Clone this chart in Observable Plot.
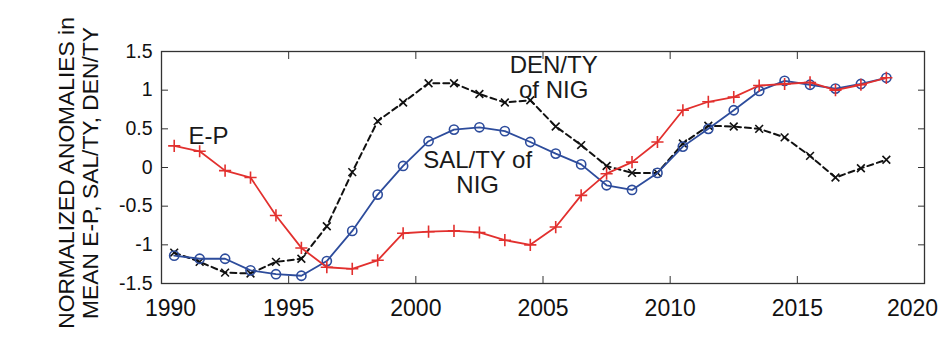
<!DOCTYPE html>
<html>
<head>
<meta charset="utf-8">
<script src="https://cdn.jsdelivr.net/npm/d3@7"></script>
<script src="https://cdn.jsdelivr.net/npm/@observablehq/plot@0.6"></script>
<style>
  html, body { margin: 0; padding: 0; background: #fff; }
  #chart svg { display: block; }
</style>
</head>
<body>
<div id="chart"></div>
<script>
const years = [1990.5, 1991.5, 1992.5, 1993.5, 1994.5, 1995.5, 1996.5, 1997.5, 1998.5, 1999.5,
               2000.5, 2001.5, 2002.5, 2003.5, 2004.5, 2005.5, 2006.5, 2007.5, 2008.5, 2009.5,
               2010.5, 2011.5, 2012.5, 2013.5, 2014.5, 2015.5, 2016.5, 2017.5, 2018.5];
const ep  = [0.28, 0.21, -0.04, -0.13, -0.62, -1.04, -1.29, -1.31, -1.20, -0.85,
             -0.83, -0.82, -0.84, -0.94, -1.00, -0.77, -0.36, -0.08, 0.07, 0.33,
             0.74, 0.85, 0.91, 1.06, 1.08, 1.10, 1.00, 1.07, 1.16];
const sal = [-1.14, -1.18, -1.18, -1.33, -1.38, -1.40, -1.21, -0.82, -0.35, 0.02,
             0.34, 0.49, 0.52, 0.47, 0.33, 0.18, 0.04, -0.23, -0.29, -0.07,
             0.27, 0.50, 0.74, 0.99, 1.12, 1.07, 1.02, 1.08, 1.16];
const den = [-1.10, -1.22, -1.36, -1.37, -1.22, -1.18, -0.76, -0.06, 0.60, 0.84,
             1.09, 1.09, 0.95, 0.84, 0.87, 0.53, 0.29, 0.02, -0.07, -0.07,
             0.31, 0.54, 0.53, 0.50, 0.39, 0.15, -0.13, -0.01, 0.10];
const xTicks = [1990, 1995, 2000, 2005, 2010, 2015, 2020];
const xTickLabels = ["1990", "1995", "2000", "2005", "2010", "2015", "2020"];
const yTicks = [-1.5, -1, -0.5, 0, 0.5, 1, 1.5];
const yTickLabels = ["-1.5", "-1", "-0.5", "0", "0.5", "1", "1.5"];
const annotations = [
  {x: 1991.85, y: 0.41, text: "E-P"},
  {x: 2005.42, y: 1.16, text: "DEN/TY\nof NIG"},
  {x: 2002.43, y: -0.06, text: "SAL/TY of\nNIG"}
];
const yTitle = ["NORMALIZED ANOMALIES in", "MEAN E-P, SAL/TY, DEN/TY"];

const epData  = years.map((t, i) => ({t, v: ep[i]}));
const salData = years.map((t, i) => ({t, v: sal[i]}));
const denData = years.map((t, i) => ({t, v: den[i]}));
const xLab = xTicks.map((t, i) => ({t, s: xTickLabels[i]}));
const yLab = yTicks.map((v, i) => ({v, s: yTickLabels[i]}));

const RED = "#e2302e", BLUE = "#2d4c9c", BLACK = "#111";
const FONT = "'Liberation Sans', Arial, Helvetica, sans-serif";
const noLabel = () => "";

const plot = Plot.plot({
  width: 945,
  height: 337,
  marginLeft: 161,
  marginRight: 21,
  marginTop: 51,
  marginBottom: 54,
  style: {fontFamily: FONT, background: "#fff", color: "#222"},
  x: {domain: [1990, 2020]},
  y: {domain: [-1.5, 1.5]},
  marks: [
    // inward tick marks on all four sides
    Plot.axisX(xTicks, {anchor: "bottom", tickSize: -7, tickFormat: noLabel, label: null, stroke: "#333"}),
    Plot.axisX(xTicks, {anchor: "top", tickSize: -7, tickFormat: noLabel, label: null, stroke: "#333"}),
    Plot.axisY(yTicks, {anchor: "left", tickSize: -7, tickFormat: noLabel, label: null, stroke: "#333"}),
    Plot.axisY(yTicks, {anchor: "right", tickSize: -7, tickFormat: noLabel, label: null, stroke: "#333"}),
    // tick labels
    Plot.text(xLab.slice(1, -1), {x: "t", text: "s", frameAnchor: "bottom", lineAnchor: "top",
      dy: 16, fontSize: 23, fill: "#111"}),
    Plot.text(xLab.slice(0, 1), {x: "t", text: "s", frameAnchor: "bottom", lineAnchor: "top",
      dy: 16, dx: 9, fontSize: 23, fill: "#111"}),
    Plot.text(xLab.slice(-1), {x: "t", text: "s", frameAnchor: "bottom", lineAnchor: "top",
      dy: 16, dx: -12, fontSize: 23, fill: "#111"}),
    Plot.text(yLab, {y: "v", text: "s", frameAnchor: "left", textAnchor: "end",
      dx: -9, fontSize: 19.5, fill: "#111"}),
    // series
    Plot.line(denData, {x: "t", y: "v", stroke: BLACK, strokeWidth: 2, strokeDasharray: "6,4"}),
    Plot.dot(denData, {x: "t", y: "v", symbol: "times", r: 3.6, stroke: BLACK, strokeWidth: 1.6}),
    Plot.line(salData, {x: "t", y: "v", stroke: BLUE, strokeWidth: 1.8}),
    Plot.dot(salData, {x: "t", y: "v", symbol: "circle", r: 4.6, stroke: BLUE, strokeWidth: 1.6, fill: "none"}),
    Plot.line(epData, {x: "t", y: "v", stroke: RED, strokeWidth: 1.8}),
    Plot.dot(epData, {x: "t", y: "v", symbol: "plus", r: 4, stroke: RED, strokeWidth: 1.6}),
    Plot.text(annotations, {x: "x", y: "y", text: "text", fontSize: 24, lineHeight: 1.05, fill: "#1a1a1a"}),
    Plot.frame({stroke: "#333", strokeWidth: 1.3})
  ]
});

document.getElementById("chart").appendChild(plot);

// Two-line rotated y-axis title
const svg = d3.select(plot);
const g = svg.append("g")
  .attr("transform", "translate(0,173) rotate(-90)")
  .attr("font-family", FONT)
  .attr("font-size", 22.8)
  .attr("fill", "#111")
  .attr("text-anchor", "middle");
g.append("text").attr("x", 0).attr("y", 74).text(yTitle[0]);
g.append("text").attr("x", 0).attr("y", 98).text(yTitle[1]);
</script>
</body>
</html>
